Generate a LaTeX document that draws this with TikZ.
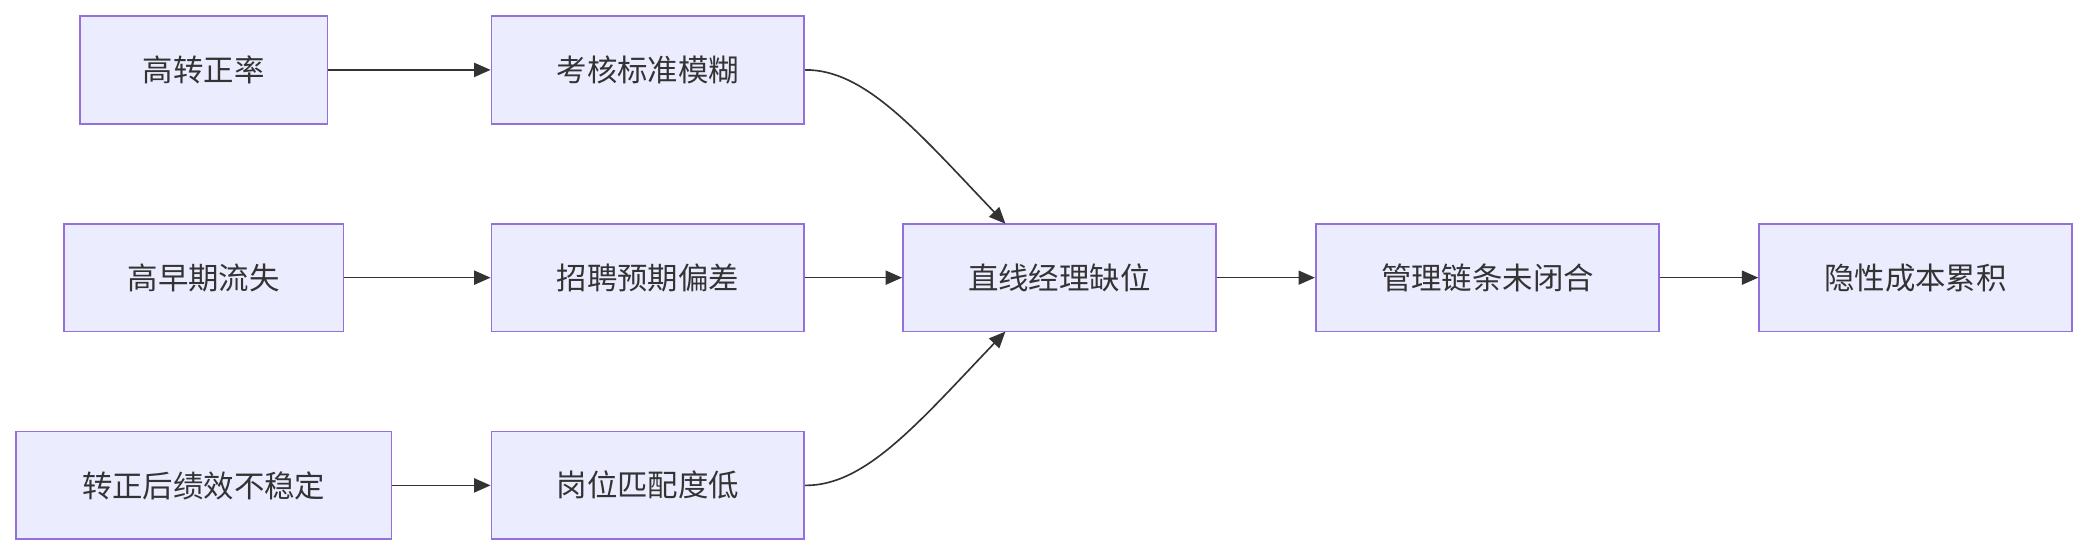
\documentclass[tikz,border=0pt]{standalone}
\usepackage{fontspec}
\setmainfont{Noto Sans CJK SC}
\usetikzlibrary{arrows.meta}
\definecolor{nfill}{HTML}{ECECFF}
\definecolor{nbord}{HTML}{9370DB}
\definecolor{lcol}{HTML}{333333}
\begin{document}
\begin{tikzpicture}[x=0.02cm,y=-0.02cm,
  box/.style={draw=nbord,fill=nfill,line width=0.7pt,minimum height=1.62cm,inner sep=0pt,font=\fontsize{13pt}{15pt}\selectfont,text=lcol},
  arr/.style={draw=lcol,line width=0.7pt,-{Triangle[length=7pt,width=6pt]}}]
\useasboundingbox (0,0) rectangle (1568,417);
\node[box,minimum width=3.72cm] (A) at (153,52.5) {高转正率};
\node[box,minimum width=4.7cm] (B) at (486.5,52.5) {考核标准模糊};
\node[box,minimum width=4.2cm] (C) at (153,208.5) {高早期流失};
\node[box,minimum width=4.7cm] (D) at (486.5,208.5) {招聘预期偏差};
\node[box,minimum width=5.64cm] (E) at (153,364.5) {转正后绩效不稳定};
\node[box,minimum width=4.7cm] (F) at (486.5,364.5) {岗位匹配度低};
\node[box,minimum width=4.7cm] (G) at (795.5,208.5) {直线经理缺位};
\node[box,minimum width=5.16cm] (H) at (1117,208.5) {管理链条未闭合};
\node[box,minimum width=4.7cm] (I) at (1438.5,208.5) {隐性成本累积};
\coordinate (Gt) at (755,168);
\coordinate (Gb) at (755,249);
\draw[arr] (A) -- (B);
\draw[arr] (C) -- (D);
\draw[arr] (E) -- (F);
\draw[arr] (D) -- (G);
\draw[arr] (G) -- (H);
\draw[arr] (H) -- (I);
\draw[arr] (B.east) .. controls (650,52) and (690,100) .. (Gt);
\draw[arr] (F.east) .. controls (650,365) and (690,317) .. (Gb);
\end{tikzpicture}
\end{document}
